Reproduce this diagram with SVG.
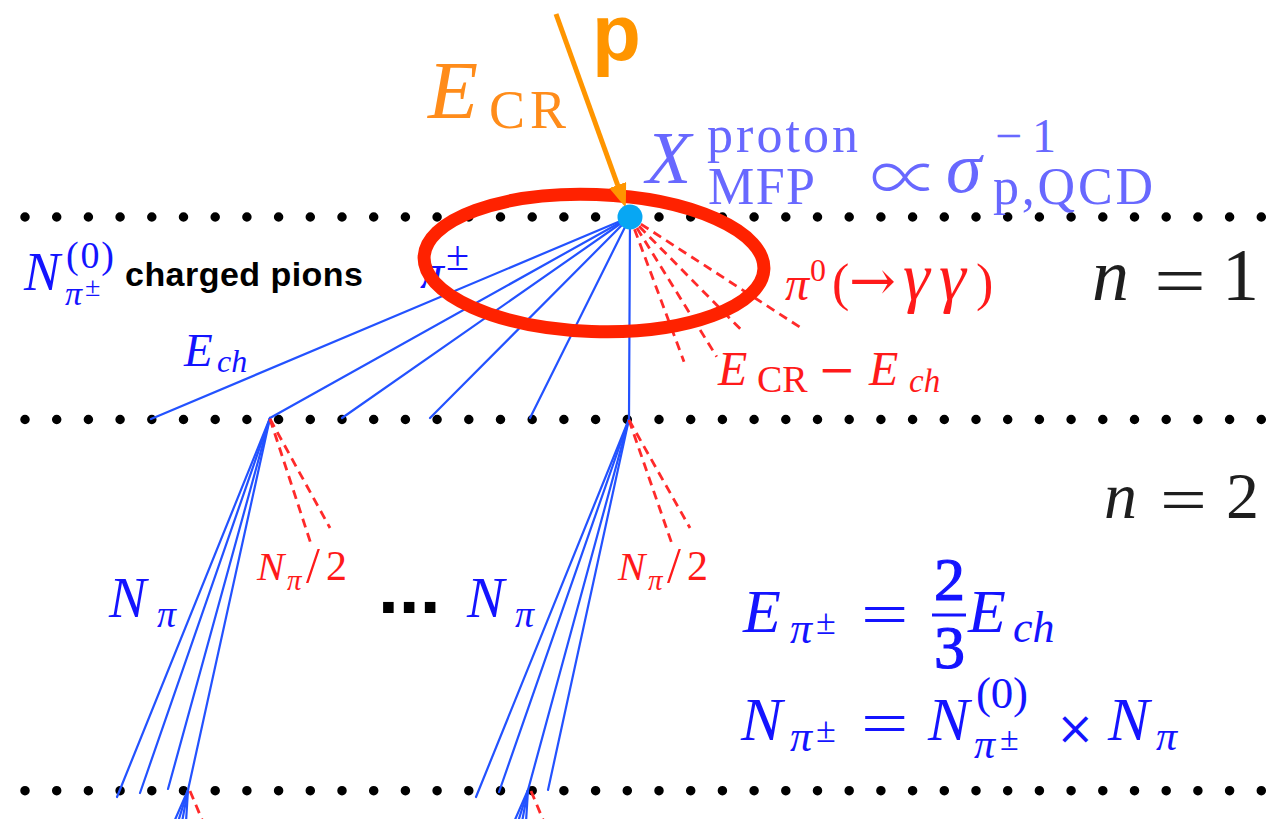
<svg xmlns="http://www.w3.org/2000/svg" width="1270" height="819" viewBox="0 0 1270 819">
<defs>
<style>
.dots{stroke:#000;stroke-width:9.5;stroke-linecap:round;stroke-dasharray:0 31.7;fill:none}
.bl{stroke:#2352FF;stroke-width:2.2;fill:none;stroke-linecap:round}
.rd{stroke:#FF2A2A;stroke-width:2.8;fill:none;stroke-dasharray:9 6}
.it{font-family:"Liberation Serif","Times New Roman",serif;font-style:italic}
.rm{font-family:"Liberation Serif","Times New Roman",serif}
.sy{font-family:"DejaVu Serif",serif}
.blue{fill:#1414FF}
.red{fill:#FF1A1A}
.lav{fill:#6868FF}
.org{fill:#FF8C1A}
.dark{fill:#1E1E1E}
</style>
<marker id="ah" markerUnits="userSpaceOnUse" markerWidth="24" markerHeight="18" viewBox="0 0 24 18" refX="1" refY="9" orient="auto"><path d="M0,0 L24,9 L0,18 z" fill="#FF9500"/></marker>
</defs>
<rect width="1270" height="819" fill="#fff"/>
<g id="levels">
<line class="dots" x1="25" y1="217" x2="1266" y2="217"/>
<line class="dots" x1="25" y1="419.5" x2="1266" y2="419.5"/>
<line class="dots" x1="25" y1="790.7" x2="1266" y2="790.7"/>
</g>
<g id="connectors">
<line class="bl" x1="630" y1="217" x2="151" y2="419"/>
<line class="bl" x1="630" y1="217" x2="270" y2="418"/>
<line class="bl" x1="630" y1="217" x2="342" y2="418"/>
<line class="bl" x1="630" y1="217" x2="430" y2="418"/>
<line class="bl" x1="630" y1="217" x2="530" y2="418"/>
<line class="bl" x1="630" y1="217" x2="629" y2="419"/>
<line class="rd" x1="640.9" y1="224.1" x2="801.7" y2="328.3"/>
<line class="rd" x1="639.1" y1="226.3" x2="743" y2="331.7"/>
<line class="rd" x1="636.9" y1="228" x2="716.7" y2="356.7"/>
<line class="rd" x1="634.5" y1="229.2" x2="684" y2="361.7"/>
<line class="bl" x1="270" y1="418" x2="117" y2="797"/>
<line class="bl" x1="270" y1="418" x2="140" y2="793"/>
<line class="bl" x1="270" y1="418" x2="168" y2="789"/>
<line class="bl" x1="270" y1="418" x2="188" y2="790"/>
<line class="rd" x1="270" y1="419" x2="311" y2="544"/>
<line class="rd" x1="270" y1="419" x2="330" y2="528"/>
<line class="bl" x1="629" y1="419" x2="476" y2="797"/>
<line class="bl" x1="629" y1="419" x2="499" y2="792"/>
<line class="bl" x1="629" y1="419" x2="528" y2="790"/>
<line class="bl" x1="629" y1="419" x2="548" y2="790"/>
<line class="rd" x1="629" y1="420" x2="672" y2="544"/>
<line class="rd" x1="629" y1="420" x2="690" y2="528"/>
<line class="bl" x1="188" y1="790" x2="174" y2="822"/>
<line class="bl" x1="188" y1="790" x2="178" y2="822"/>
<line class="bl" x1="188" y1="790" x2="182" y2="822"/>
<line class="bl" x1="188" y1="790" x2="186" y2="822"/>
<line class="rd" x1="190" y1="791" x2="203" y2="822"/>
<line class="bl" x1="528" y1="790" x2="514" y2="822"/>
<line class="bl" x1="528" y1="790" x2="518" y2="822"/>
<line class="bl" x1="528" y1="790" x2="522" y2="822"/>
<line class="bl" x1="528" y1="790" x2="526" y2="822"/>
<line class="rd" x1="531" y1="791" x2="544" y2="822"/>
</g>
<g id="labels-gen1">
<text class="it blue" x="24" y="290" font-size="54">N</text>
<text class="rm blue" x="66" y="268" font-size="38" textLength="48">(0)</text>
<text class="it blue" x="65" y="305" font-size="34">π</text>
<text class="rm blue" x="85" y="296" font-size="28">±</text>
<text x="125" y="286" font-family="Liberation Sans, Arial, sans-serif" font-weight="bold" font-size="34" fill="#000" textLength="238">charged pions</text>
<text class="it blue" x="420" y="288" font-size="48">π</text>
<text class="rm blue" x="446" y="270" font-size="42">±</text>
<text class="it blue" x="184" y="366" font-size="47">E</text>
<text class="it blue" x="217" y="372" font-size="32">ch</text>
<text class="it red" x="785" y="300" font-size="48">π</text>
<text class="rm red" x="810" y="281" font-size="32">0</text>
<text class="rm red" x="832" y="300" font-size="52">(</text>
<text class="sy red" x="849" y="300" font-size="56">→</text>
<text class="it red" x="903" y="300" font-size="68">γ</text>
<text class="it red" x="939" y="300" font-size="68">γ</text>
<text class="rm red" x="976" y="300" font-size="52">)</text>
<text class="it red" x="718" y="385" font-size="48">E</text>
<text class="rm red" x="757" y="392" font-size="38">CR</text>
<text class="sy red" x="818" y="385" font-size="45">−</text>
<text class="it red" x="869" y="385" font-size="48">E</text>
<text class="it red" x="909" y="392" font-size="33">ch</text>
<text class="it dark" x="1092" y="300" font-size="74">n</text>
<text class="rm dark" transform="translate(1154,305) scale(1.28,1)" font-size="72">=</text>
<text class="rm dark" x="1222" y="300" font-size="74">1</text>
</g>
<g id="labels-gen2">
<text class="it blue" x="109" y="617" font-size="56">N</text>
<text class="it blue" x="157" y="627" font-size="38">π</text>
<text class="it red" x="257" y="580" font-size="41">N</text>
<text class="it red" x="287" y="590" font-size="29">π</text>
<text class="rm red" x="306" y="582" font-size="50">/</text>
<text class="rm red" x="326" y="580" font-size="42">2</text>
<text x="378" y="613" font-family="Liberation Sans, Arial, sans-serif" font-weight="bold" font-size="75" fill="#000">...</text>
<text class="it blue" x="467" y="617" font-size="56">N</text>
<text class="it blue" x="515" y="627" font-size="38">π</text>
<text class="it red" x="618" y="580" font-size="41">N</text>
<text class="it red" x="648" y="590" font-size="29">π</text>
<text class="rm red" x="667" y="582" font-size="50">/</text>
<text class="rm red" x="687" y="580" font-size="42">2</text>
<text class="it dark" x="1104" y="518" font-size="66">n</text>
<text class="rm dark" transform="translate(1160,521) scale(1.3,1)" font-size="64">=</text>
<text class="rm dark" x="1226" y="518" font-size="66">2</text>
</g>
<g id="formulas">
<text class="it blue" x="743" y="632" font-size="62">E</text>
<text class="it blue" x="790" y="643" font-size="44">π</text>
<text class="rm blue" x="816" y="634" font-size="36">±</text>
<text class="rm blue" transform="translate(861,634) scale(1.4,1)" font-size="60">=</text>
<text class="rm blue" x="934" y="600" font-size="62" stroke="#1414FF" stroke-width="1.2">2</text>
<line x1="932" y1="615" x2="966" y2="615" stroke="#1414FF" stroke-width="3"/>
<text class="rm blue" x="934" y="668" font-size="62" stroke="#1414FF" stroke-width="1.2">3</text>
<text class="it blue" x="968" y="632" font-size="62">E</text>
<text class="it blue" x="1013" y="642" font-size="44">ch</text>
<text class="it blue" x="741" y="740" font-size="62">N</text>
<text class="it blue" x="790" y="751" font-size="44">π</text>
<text class="rm blue" x="816" y="742" font-size="36">±</text>
<text class="rm blue" transform="translate(861,743) scale(1.4,1)" font-size="60">=</text>
<text class="it blue" x="928" y="740" font-size="62">N</text>
<text class="rm blue" x="976" y="708" font-size="45" textLength="52">(0)</text>
<text class="it blue" x="974" y="758" font-size="42">π</text>
<text class="rm blue" x="1000" y="750" font-size="34">±</text>
<text class="sy blue" x="1056" y="744" font-size="46">×</text>
<text class="it blue" x="1108" y="740" font-size="62">N</text>
<text class="it blue" x="1156" y="750" font-size="42">π</text>
</g>
<g id="mfp-label">
<text class="it lav" x="646" y="183" font-size="74">X</text>
<text class="rm lav" x="707" y="152" font-size="52" textLength="151">proton</text>
<text class="rm lav" x="708" y="204" font-size="52" textLength="107">MFP</text>
<text x="870" y="204" font-family="Noto Sans CJK JP, DejaVu Sans, sans-serif" font-weight="300" font-size="70" class="lav">∝</text>
<text class="it lav" x="946" y="192" font-size="72">σ</text>
<text class="rm lav" x="995" y="152" font-size="48" textLength="61">−1</text>
<text class="rm lav" x="993" y="204" font-size="52" textLength="160">p,QCD</text>
</g>
<g id="highlight">
<ellipse cx="594" cy="263" rx="170" ry="68.5" transform="rotate(2 594 263)" fill="none" stroke="#FF2200" stroke-width="13"/>
</g>
<g id="proton">
<text class="it org" x="428" y="118" font-size="82">E</text>
<text class="rm org" x="489" y="128" font-size="54" textLength="77">CR</text>
<text x="592" y="60" font-family="Liberation Sans, Arial, sans-serif" font-weight="bold" font-size="80" fill="#FF9500">p</text>
<line x1="556" y1="14" x2="618" y2="186" stroke="#FF9500" stroke-width="5" marker-end="url(#ah)"/>
</g>
<g id="vertex">
<circle cx="630" cy="217" r="12.5" fill="#07A7F3"/>
</g>
</svg>
